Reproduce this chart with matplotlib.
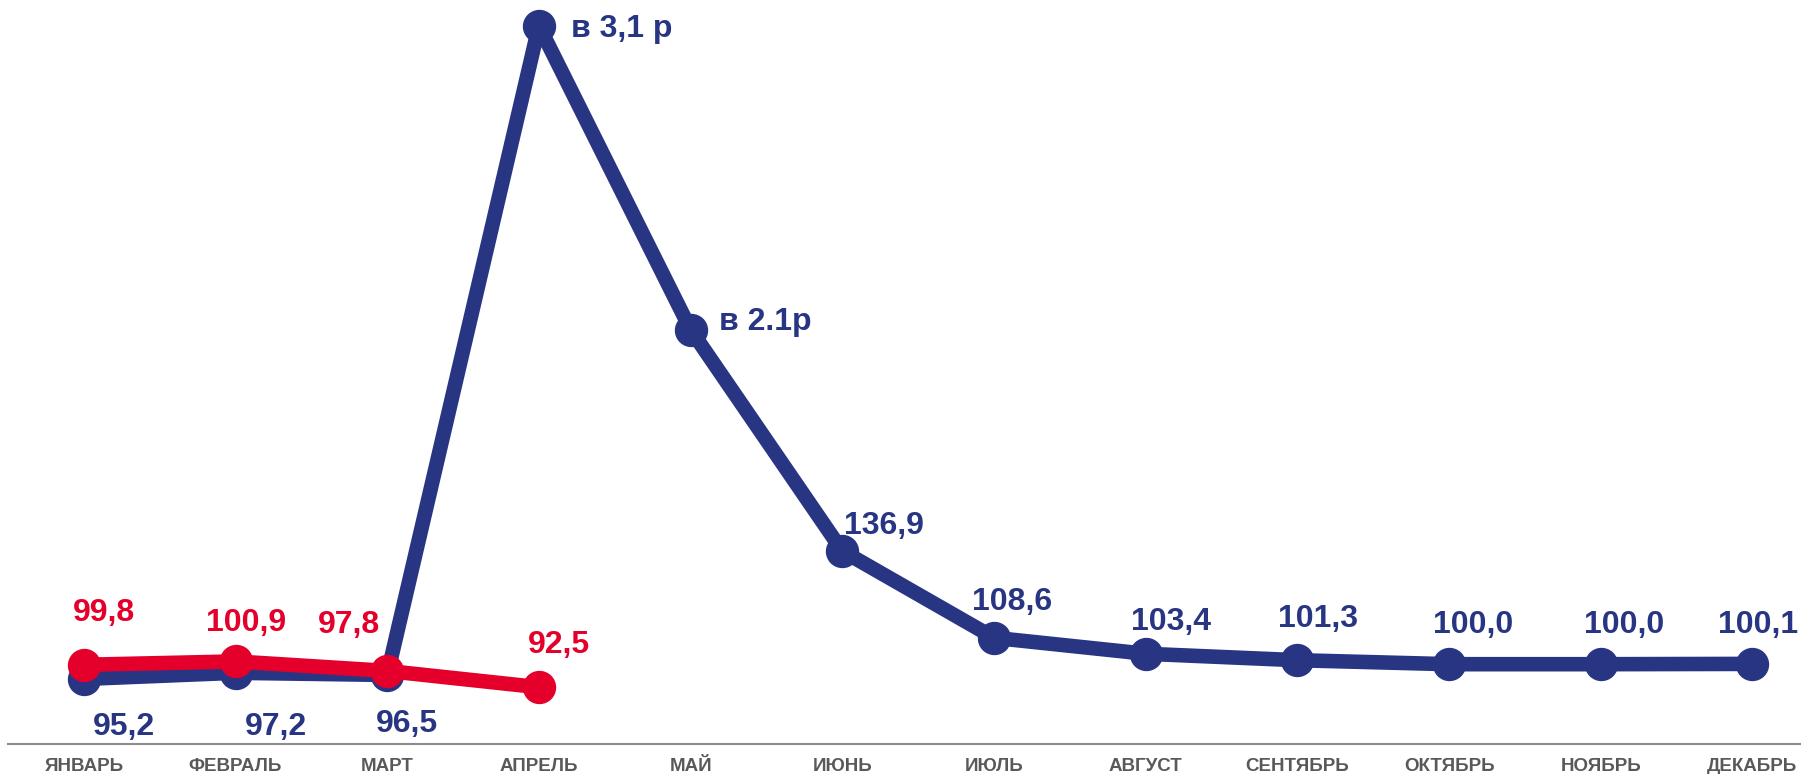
import matplotlib
matplotlib.use('Agg')
import matplotlib.pyplot as plt

plt.rcParams['font.family'] = ['Liberation Sans', 'DejaVu Sans']

months = ['ЯНВАРЬ', 'ФЕВРАЛЬ', 'МАРТ', 'АПРЕЛЬ', 'МАЙ', 'ИЮНЬ', 'ИЮЛЬ',
          'АВГУСТ', 'СЕНТЯБРЬ', 'ОКТЯБРЬ', 'НОЯБРЬ', 'ДЕКАБРЬ']

# blue series (previous year), april / may given as "times" in the labels
blue_values = [95.2, 97.2, 96.5, 308.0, 209.0, 136.9, 108.6, 103.4, 101.3, 100.0, 100.0, 100.1]
blue_labels = ['95,2', '97,2', '96,5', 'в 3,1 р', 'в 2.1р', '136,9', '108,6',
               '103,4', '101,3', '100,0', '100,0', '100,1']

# red series (current year)
red_values = [99.8, 100.9, 97.8, 92.5]
red_labels = ['99,8', '100,9', '97,8', '92,5']

BLUE = '#283583'
RED = '#e4002b'
GREY = '#595959'

# label offsets in pixels (dx, dy), and alignment
blue_offsets = [(40, -48), (40, -54), (20, -49), (32, -3), (28, 8), (2, 25),
                (18, 36), (25, 32), (21, 41), (24, 39), (23, 39), (6, 39)]
blue_align = ['center', 'center', 'center', 'left', 'left', 'left',
              'center', 'center', 'center', 'center', 'center', 'center']
red_offsets = [(20, 52), (11, 38), (-38, 46), (20, 42)]

fig = plt.figure(figsize=(18.01, 7.74), dpi=100)
ax = fig.add_axes([8 / 1801, 30 / 774, 1 - 8 / 1801, 744 / 774])

x_blue = list(range(len(blue_values)))
x_red = list(range(len(red_values)))

ax.plot(x_blue, blue_values, color=BLUE, lw=10.5, marker='o', ms=23,
        solid_joinstyle='round', zorder=2)
ax.plot(x_red, red_values, color=RED, lw=10.5, marker='o', ms=23,
        solid_joinstyle='round', zorder=3)

for i, (v, t) in enumerate(zip(blue_values, blue_labels)):
    ax.annotate(t, (i, v), xytext=blue_offsets[i], textcoords='offset pixels',
                ha=blue_align[i], va='center', fontsize=23, fontweight='bold',
                color=BLUE, zorder=4)

for i, (v, t) in enumerate(zip(red_values, red_labels)):
    ax.annotate(t, (i, v), xytext=red_offsets[i], textcoords='offset pixels',
                ha='center', va='center', fontsize=23, fontweight='bold',
                color=RED, zorder=4)

ax.set_xlim(-0.5, 11.32)
ax.set_ylim(74, 316.4)
ax.set_xticks(x_blue)
ax.set_xticklabels(months, fontsize=13.5, fontweight='bold', color=GREY)
ax.tick_params(axis='x', length=0, pad=10)
ax.set_yticks([])
for s in ['top', 'right', 'left']:
    ax.spines[s].set_visible(False)
ax.spines['bottom'].set_color('#8c8c8c')
ax.spines['bottom'].set_linewidth(1.5)

fig.savefig('out.png', dpi=100)
